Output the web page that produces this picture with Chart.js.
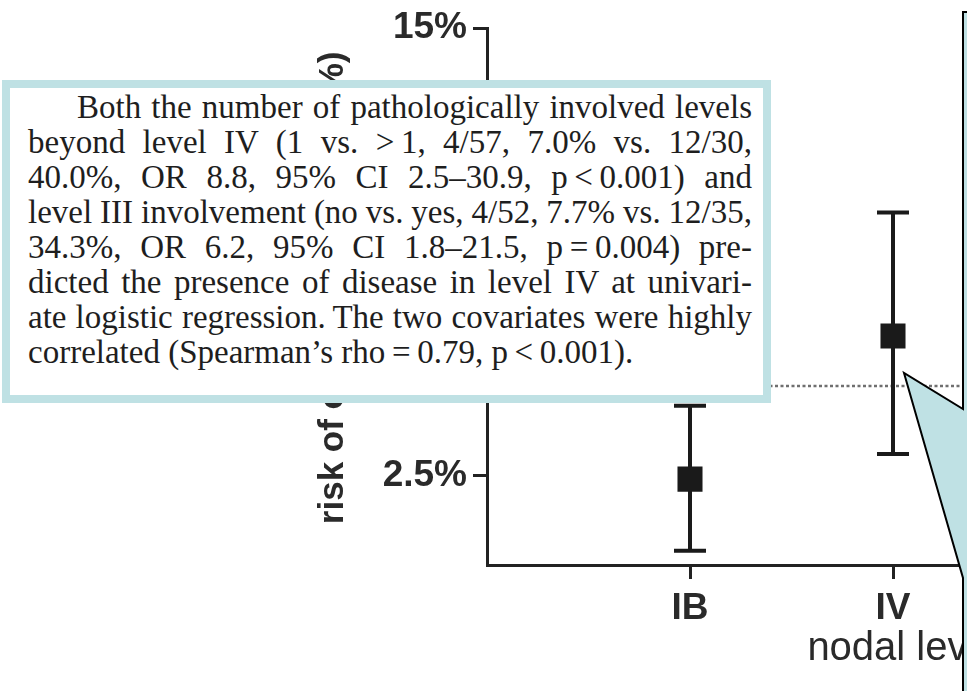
<!DOCTYPE html>
<html>
<head>
<meta charset="utf-8">
<script src="https://cdn.jsdelivr.net/npm/chart.js@4.4.1/dist/chart.umd.min.js"></script>
<style>
  html, body { margin: 0; padding: 0; background: #fff; }
  body { width: 967px; height: 691px; overflow: hidden; position: relative; }
  #plot { position: absolute; left: 0; top: 0; }
  #note {
    position: absolute; left: 2px; top: 80px;
    width: 724px; height: 305px;
    border: 8px solid #bfe1e4; background: #fff;
    padding: 2px 11px 0 18px;
    font-family: "Liberation Serif", "Times New Roman", serif;
    font-size: 33px; line-height: 35px; color: #1e1e1e;
  }
  #note .ln { display: block; white-space: nowrap; height: 35px; }
  #note .ln span { display: inline-block; white-space: nowrap; }
  #note .first { padding-left: 49px; }
  #callout { position: absolute; left: 0; top: 0; pointer-events: none; }
</style>
</head>
<body>
<canvas id="plot" width="1320" height="691"></canvas>

<div id="note">
  <div class="ln first"><span>Both the number of pathologically involved levels</span></div>
  <div class="ln"><span>beyond level IV (1 vs. &gt;&#8201;1, 4/57, 7.0% vs. 12/30,</span></div>
  <div class="ln"><span>40.0%, OR 8.8, 95% CI 2.5–30.9, p&#8201;&lt;&#8201;0.001) and</span></div>
  <div class="ln"><span>level III involvement (no vs. yes, 4/52, 7.7% vs. 12/35,</span></div>
  <div class="ln"><span>34.3%, OR 6.2, 95% CI 1.8–21.5, p&#8201;=&#8201;0.004) pre-</span></div>
  <div class="ln"><span>dicted the presence of disease in level IV at univari-</span></div>
  <div class="ln"><span>ate logistic regression.&#8201;The two covariates were highly</span></div>
  <div class="ln last"><span>correlated (Spearman’s rho&#8201;=&#8201;0.79, p&#8201;&lt;&#8201;0.001).</span></div>
</div>

<svg id="callout" width="967" height="691" xmlns="http://www.w3.org/2000/svg">
  <rect x="963" y="12" width="10" height="680" fill="#bfe1e4"/>
  <polygon points="904,373 963,409 970,409 970,691 963,691 963,578" fill="#bfe1e4"/>
  <polyline points="972,12 963,12 963,409 904,373 963,578 963,692" fill="none" stroke="#000" stroke-width="2" stroke-linejoin="miter"/>
</svg>

<script>
// Risk per nodal level with 95% confidence limits
const categories = ['IB', 'IV', 'V'];
const riskValues = [2.4, 6.4, null];
const ciLower = [0.4, 3.1, null];
const ciUpper = [4.45, 9.85, null];

// Y axis ticks (percent)
const yTickValues = [2.5, 5, 7.5, 10, 12.5, 15];
const yTickLabels = ['2.5%', '5%', '7.5%', '10%', '12.5%', '15%'];

// Overall reference risk drawn as a dotted line
const referenceRisk = 5;

// Justify each typeset line of the note to the column width
(function justifyNote() {
  const colWidth = 724;
  document.querySelectorAll('#note .ln').forEach(function (ln) {
    if (ln.classList.contains('last')) return;
    const span = ln.querySelector('span');
    const target = colWidth - (ln.classList.contains('first') ? 49 : 0);
    const w = span.getBoundingClientRect().width;
    const gaps = (span.textContent.match(/ /g) || []).length;
    if (gaps > 0) span.style.wordSpacing = ((target - w) / gaps) + 'px';
  });
})();

const axisColor = '#222';

const errorBars = {
  id: 'errorBars',
  beforeDatasetsDraw(chart) {
    const { ctx, scales: { x, y } } = chart;
    ctx.save();
    ctx.strokeStyle = '#1a1a1a';
    ctx.lineWidth = 4;
    ctx.lineCap = 'butt';
    const capHalf = 16;
    categories.forEach(function (c, i) {
      if (ciLower[i] == null || ciUpper[i] == null) return;
      const px = x.getPixelForValue(i + 1);
      const yLo = y.getPixelForValue(ciLower[i]);
      const yHi = y.getPixelForValue(ciUpper[i]);
      ctx.beginPath();
      ctx.moveTo(px, yLo); ctx.lineTo(px, yHi);
      ctx.moveTo(px - capHalf, yLo); ctx.lineTo(px + capHalf, yLo);
      ctx.moveTo(px - capHalf, yHi); ctx.lineTo(px + capHalf, yHi);
      ctx.stroke();
    });
    ctx.restore();
  }
};

const referenceLine = {
  id: 'referenceLine',
  beforeDatasetsDraw(chart) {
    const { ctx, chartArea, scales: { y } } = chart;
    const py = y.getPixelForValue(referenceRisk);
    ctx.save();
    ctx.strokeStyle = '#6f6f6f';
    ctx.lineWidth = 2.5;
    ctx.setLineDash([3, 2.5]);
    ctx.beginPath();
    ctx.moveTo(chartArea.left + 2, py);
    ctx.lineTo(chartArea.right, py);
    ctx.stroke();
    ctx.restore();
  }
};

new Chart(document.getElementById('plot'), {
  type: 'scatter',
  data: {
    datasets: [{
      data: riskValues.map(function (v, i) { return { x: i + 1, y: v }; }),
      pointStyle: 'rect',
      radius: 17.7,
      hoverRadius: 17.7,
      backgroundColor: '#1a1a1a',
      borderColor: '#1a1a1a',
      borderWidth: 0,
      showLine: false
    }]
  },
  options: {
    responsive: false,
    devicePixelRatio: 1,
    animation: false,
    layout: { padding: { top: 22, right: 21, left: 0, bottom: 0 } },
    plugins: { legend: { display: false }, tooltip: { enabled: false } },
    scales: {
      x: {
        type: 'linear',
        min: 0,
        max: categories.length + 1,
        afterBuildTicks(scale) {
          scale.ticks = categories.map(function (c, i) { return { value: i + 1 }; });
        },
        afterFit(scale) { scale.height = 126; },
        ticks: {
          autoSkip: false,
          maxRotation: 0,
          padding: 8,
          color: '#2a2a2a',
          font: { family: '"Liberation Sans", Arial, sans-serif', size: 37, weight: 'bold' },
          callback(value) { return categories[value - 1]; }
        },
        grid: { display: true, drawOnChartArea: false, drawTicks: true, tickLength: 14, lineWidth: 3, color: axisColor },
        border: { display: true, width: 3, color: axisColor },
        title: {
          display: true,
          text: '\u2002nodal level',
          color: '#2a2a2a',
          font: { family: '"Liberation Sans", Arial, sans-serif', size: 40, weight: 'normal' },
          padding: { top: 0, bottom: 18 }
        }
      },
      y: {
        type: 'linear',
        min: 0,
        max: 15,
        afterBuildTicks(scale) {
          scale.ticks = yTickValues.map(function (v) { return { value: v }; });
        },
        afterFit(scale) { scale.width = 487; },
        ticks: {
          padding: 6,
          color: '#2a2a2a',
          font: { family: '"Liberation Sans", Arial, sans-serif', size: 37, weight: 'bold' },
          callback(value) {
            const k = yTickValues.indexOf(value);
            return k >= 0 ? yTickLabels[k] : '';
          }
        },
        grid: { display: true, drawOnChartArea: false, drawTicks: true, tickLength: 14, lineWidth: 3, color: axisColor },
        border: { display: true, width: 3, color: axisColor },
        title: {
          display: true,
          text: '\u2002risk of occult metastasis (%)',
          color: '#2a2a2a',
          font: { family: '"Liberation Sans", Arial, sans-serif', size: 35, weight: 'bold' },
          padding: { top: 312, bottom: 0 }
        }
      }
    }
  },
  plugins: [referenceLine, errorBars]
});
</script>
</body>
</html>
